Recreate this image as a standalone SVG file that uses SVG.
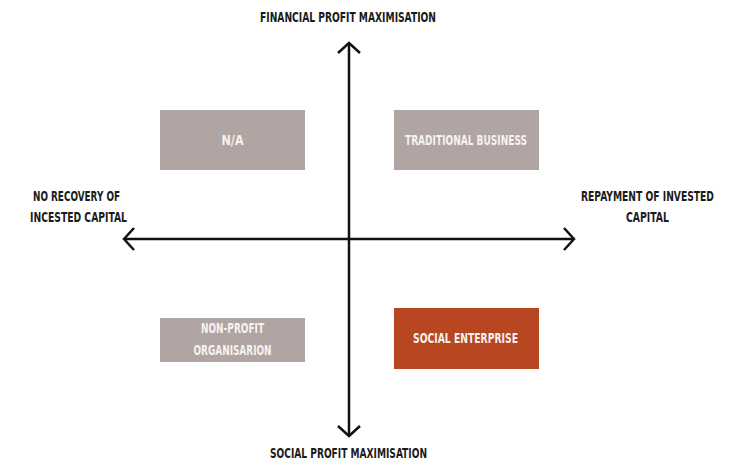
<svg xmlns="http://www.w3.org/2000/svg" width="735" height="461" viewBox="0 0 735 461">
<style>
text{font-family:"Liberation Sans Narrow","DejaVu Sans Condensed","Liberation Sans",sans-serif;font-weight:bold;font-size:14px;text-anchor:middle}
.lbl{fill:#1b1b1b}
.bt{fill:#f6f2f0}
.grey{fill:#b0a5a2}
.orange{fill:#b84620}
.axis{stroke:#111;stroke-width:2.5;fill:none}
</style>
<defs>
<marker id="arr" markerUnits="userSpaceOnUse" markerWidth="30" markerHeight="30" viewBox="-15 -15 30 30" refX="0" refY="0" orient="auto-start-reverse">
<path d="M-10,-11 L0,0 L-10,11" fill="none" stroke="#111" stroke-width="2.5"/>
</marker>
</defs>
<rect width="735" height="461" fill="#fff"/>
<g id="connectors">
<line class="axis" x1="349" y1="436" x2="349" y2="43" marker-end="url(#arr)" marker-start="url(#arr)"/>
<line class="axis" x1="124" y1="239" x2="574" y2="239" marker-end="url(#arr)" marker-start="url(#arr)"/>
</g>
<g id="label-top"><text class="lbl" x="348" y="22" textLength="176" lengthAdjust="spacingAndGlyphs">FINANCIAL PROFIT MAXIMISATION</text></g>
<g id="label-bottom"><text class="lbl" x="348.5" y="458" textLength="157" lengthAdjust="spacingAndGlyphs">SOCIAL PROFIT MAXIMISATION</text></g>
<g id="label-left">
<text class="lbl" x="76.5" y="201" textLength="87" lengthAdjust="spacingAndGlyphs">NO RECOVERY OF</text>
<text class="lbl" x="78.5" y="222" textLength="97" lengthAdjust="spacingAndGlyphs">INCESTED CAPITAL</text>
</g>
<g id="label-right">
<text class="lbl" style="font-size:11px" x="647.5" y="201" textLength="133" lengthAdjust="spacingAndGlyphs" transform="translate(647.5 201) scale(1 1.27) translate(-647.5 -201)">REPAYMENT OF INVESTED</text>
<text class="lbl" x="647.5" y="222" textLength="43" lengthAdjust="spacingAndGlyphs">CAPITAL</text>
</g>
<g id="node-na">
<rect class="grey" x="160" y="110" width="145" height="60"/>
<text class="bt" x="232.5" y="145" textLength="22" lengthAdjust="spacingAndGlyphs">N/A</text>
</g>
<g id="node-traditional">
<rect class="grey" x="394" y="110" width="145" height="60"/>
<text class="bt" x="466" y="145" textLength="122" lengthAdjust="spacingAndGlyphs">TRADITIONAL BUSINESS</text>
</g>
<g id="node-nonprofit">
<rect class="grey" x="160" y="318" width="145" height="44"/>
<text class="bt" x="232.5" y="333" textLength="63" lengthAdjust="spacingAndGlyphs">NON-PROFIT</text>
<text class="bt" x="232.5" y="355" textLength="78" lengthAdjust="spacingAndGlyphs">ORGANISARION</text>
</g>
<g id="node-social">
<rect class="orange" x="394" y="308" width="145" height="61"/>
<text class="bt" x="465.5" y="343" textLength="105" lengthAdjust="spacingAndGlyphs">SOCIAL ENTERPRISE</text>
</g>
</svg>
